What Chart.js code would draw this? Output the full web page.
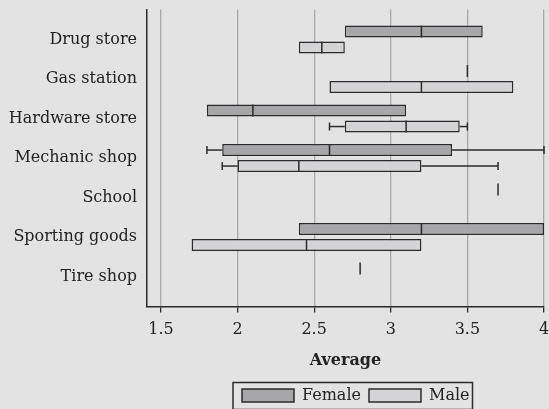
<!DOCTYPE html>
<html><head><meta charset="utf-8">
<script src="https://cdn.jsdelivr.net/npm/chart.js@4/dist/chart.umd.min.js"></script>
<style>html,body{margin:0;padding:0;background:#e3e3e3;} #wrap{width:549px;height:409px;}</style>
</head><body><div id="wrap"><canvas id="c" width="549" height="409"></canvas></div>
<script>
const categories = ['Drug store','Gas station','Hardware store','Mechanic shop','School','Sporting goods','Tire shop'];
const femaleMin    = [2.7, 3.5, 1.8, 1.8, 3.7, 2.4, 2.8];
const femaleQ1     = [2.7, 3.5, 1.8, 1.9, 3.7, 2.4, 2.8];
const femaleMedian = [3.2, 3.5, 2.1, 2.6, 3.7, 3.2, 2.8];
const femaleQ3     = [3.6, 3.5, 3.1, 3.4, 3.7, 4.0, 2.8];
const femaleMax    = [3.6, 3.5, 3.1, 4.0, 3.7, 4.0, 2.8];
const maleMin      = [2.4, 2.6, 2.6, 1.9, null, 1.7, null];
const maleQ1       = [2.4, 2.6, 2.7, 2.0, null, 1.7, null];
const maleMedian   = [2.55, 3.2, 3.1, 2.4, null, 2.45, null];
const maleQ3       = [2.7, 3.8, 3.45, 3.2, null, 3.2, null];
const maleMax      = [2.7, 3.8, 3.5, 3.7, null, 3.2, null];
const xTicks = [1.5, 2, 2.5, 3, 3.5, 4];

const stats = [
  {min: femaleMin, q1: femaleQ1, med: femaleMedian, q3: femaleQ3, max: femaleMax},
  {min: maleMin, q1: maleQ1, med: maleMedian, q3: maleQ3, max: maleMax}
];
const FONT = 'DejaVu Serif';
const INK = '#2b2b2b';

const boxExtras = {
  id: 'boxExtras',
  afterLayout(chart) {
    const lg = chart.legend;
    if (!lg || !lg.lineWidths) return;
    const pad = lg.options.labels.padding;
    const startX = (lg.left + pad + lg.right - lg.lineWidths[0]) / 2;
    const dx = 242 - startX;
    const dy = 4.5;
    lg.left += dx; lg.right += dx; lg.top += dy; lg.bottom += dy;
  },
  afterDatasetsDraw(chart) {
    const ctx = chart.ctx, xs = chart.scales.x;
    ctx.save();
    ctx.strokeStyle = INK; ctx.lineWidth = 1.5;
    stats.forEach((s, di) => {
      const meta = chart.getDatasetMeta(di);
      meta.data.forEach((el, i) => {
        if (s.med[i] == null) return;
        const y = el.y, h = el.height;
        const line = (x1, y1, x2, y2) => { ctx.beginPath(); ctx.moveTo(x1, y1); ctx.lineTo(x2, y2); ctx.stroke(); };
        const pm = xs.getPixelForValue(s.med[i]);
        line(pm, y - h / 2, pm, y + h / 2);
        if (s.min[i] < s.q1[i]) {
          const a = xs.getPixelForValue(s.min[i]), b = xs.getPixelForValue(s.q1[i]);
          line(a, y, b, y); line(a, y - 4, a, y + 4);
        }
        if (s.max[i] > s.q3[i]) {
          const a = xs.getPixelForValue(s.q3[i]), b = xs.getPixelForValue(s.max[i]);
          line(a, y, b, y); line(b, y - 4, b, y + 4);
        }
      });
    });
    ctx.restore();
  },
  afterDraw(chart) {
    const lg = chart.legend;
    if (!lg || !lg.legendHitBoxes || !lg.legendHitBoxes.length) return;
    const hb = lg.legendHitBoxes, f = hb[0], l = hb[hb.length - 1];
    const ctx = chart.ctx;
    const cy = f.top + f.height / 2;
    ctx.save();
    ctx.strokeStyle = INK; ctx.lineWidth = 1.5;
    ctx.strokeRect(f.left - 9, cy - 13, (l.left + l.width + 3) - (f.left - 9), 27);
    ctx.restore();
  }
};

new Chart(document.getElementById('c'), {
  type: 'bar',
  data: {
    datasets: [
      { label: 'Female', data: categories.map((c, i) => ({y: i, x: [femaleQ1[i], femaleQ3[i]]})),
        backgroundColor: '#a7a7a9', borderColor: INK, borderWidth: 1.5, borderSkipped: false,
        categoryPercentage: 0.81, barPercentage: 0.75 },
      { label: 'Male', data: categories.map((c, i) => ({y: i, x: maleQ1[i] == null ? null : [maleQ1[i], maleQ3[i]]})),
        backgroundColor: '#d4d4d6', borderColor: INK, borderWidth: 1.5, borderSkipped: false,
        categoryPercentage: 0.81, barPercentage: 0.75 }
    ]
  },
  options: {
    indexAxis: 'y',
    responsive: false,
    devicePixelRatio: 1,
    animation: false,
    layout: { padding: { top: 9.5, right: 5, left: 0, bottom: 0 } },
    scales: {
      x: {
        type: 'linear', min: 1.409, max: 4, position: 'bottom',
        afterBuildTicks: s => { s.ticks = xTicks.map(v => ({value: v})); },
        afterFit: s => { s.paddingLeft = 0; s.paddingRight = 0; },
        grid: { color: '#a9a9a9', lineWidth: 1.3, drawTicks: true, tickLength: 6, tickColor: INK, tickWidth: 1.3 },
        border: { display: true, color: INK, width: 1.5 },
        ticks: { font: { family: FONT, size: 16 }, color: '#222', padding: 8, maxRotation: 0, callback: v => String(v) },
        title: { display: true, text: 'Average', font: { family: FONT, size: 16, weight: 'bold' }, color: '#222', padding: { top: 3, bottom: 5 } }
      },
      y: {
        type: 'linear', min: -0.76, max: 6.76, reverse: true, offset: false,
        afterBuildTicks: s => { s.ticks = categories.map((c, i) => ({value: i})); },
        afterFit: s => { s.width = 147; s.paddingTop = 0; s.paddingBottom = 0; },
        grid: { display: false, drawTicks: false, offset: false },
        border: { display: true, color: INK, width: 1.5 },
        ticks: { font: { family: FONT, size: 16 }, color: '#222', padding: 10, autoSkip: false, callback: v => categories[v] }
      }
    },
    plugins: {
      legend: {
        position: 'bottom',
        labels: { boxWidth: 52, boxHeight: 13, font: { family: FONT, size: 16 }, color: '#222', padding: 8 }
      },
      tooltip: { enabled: false }
    }
  },
  plugins: [boxExtras]
});
</script></body></html>
